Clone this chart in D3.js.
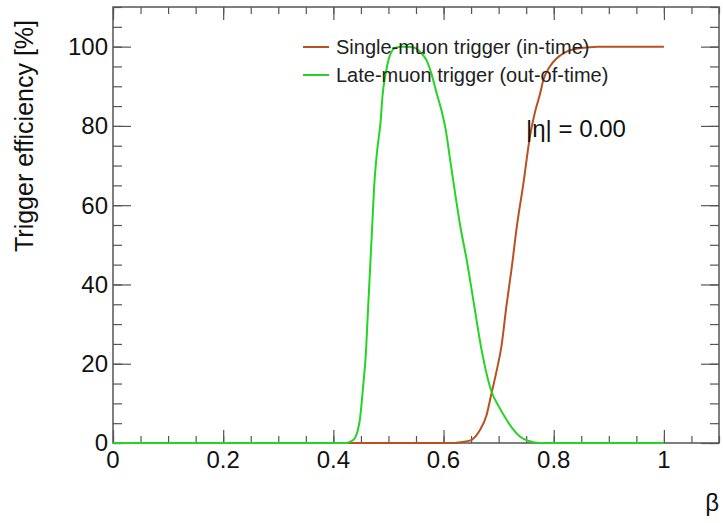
<!DOCTYPE html>
<html>
<head>
<meta charset="utf-8">
<script src="https://cdn.jsdelivr.net/npm/d3@7"></script>
<style>
  body { margin: 0; background: #fff; }
  svg { font-family: "Liberation Sans", Arial, Helvetica, sans-serif; }
</style>
</head>
<body>
<svg id="chart"></svg>
<script>
// beta values and efficiencies
const singleBeta = [0, 0.62, 0.626, 0.64, 0.651, 0.665, 0.678, 0.687, 0.696, 0.705, 0.714, 0.724, 0.733,
  0.745, 0.757, 0.766, 0.775, 0.781, 0.793, 0.805, 0.82, 0.835, 0.86, 0.88, 1.0];
const singleEff = [0, 0, 0.1, 0.4, 0.8, 3, 7, 12.5, 18, 24.3, 34.4, 44.5, 54.6,
  65.5, 77.5, 83.5, 88, 91.5, 95, 97, 98.5, 99.3, 99.8, 100, 100];

const lateBeta = [0, 0.424, 0.432, 0.439, 0.444, 0.448, 0.454, 0.459, 0.462, 0.465, 0.468, 0.471, 0.474,
  0.479, 0.486, 0.489, 0.495, 0.5, 0.506, 0.512, 0.525, 0.54, 0.551, 0.56, 0.569, 0.578, 0.587,
  0.597, 0.604, 0.612, 0.621, 0.63, 0.642, 0.654, 0.669, 0.687, 0.7, 0.711, 0.725, 0.739, 0.755, 0.775, 1.0];
const lateEff = [0, 0, 0.4, 1.2, 3, 5.8, 14.2, 22.6, 31, 39.4, 47.8, 56.2, 64.6,
  73.1, 81.5, 87.3, 93.2, 96.6, 98.8, 99.7, 100, 99.9, 99.5, 98.3, 96.6, 93.2, 88.5,
  83.5, 79, 71.4, 63, 55, 46.2, 36.1, 23.5, 13, 9.3, 6.6, 3.7, 1.6, 0.5, 0, 0];

const xMajor = [0, 0.2, 0.4, 0.6, 0.8, 1];
const yMajor = [0, 20, 40, 60, 80, 100];
const seriesNames = ["Single-muon trigger (in-time)", "Late-muon trigger (out-of-time)"];
const seriesColors = ["#b8511f", "#25d425"];

const config = {
  width: 723, height: 523,
  margin: {top: 7, right: 4, bottom: 80, left: 113}
};

const svg = d3.select('#chart')
  .attr('width', config.width)
  .attr('height', config.height);

const w = config.width - config.margin.left - config.margin.right;
const h = config.height - config.margin.top - config.margin.bottom;

const chart = svg.append('g')
  .attr('transform', `translate(${config.margin.left},${config.margin.top})`);

const x = d3.scaleLinear().domain([0, 1.1]).range([0, w]);
const y = d3.scaleLinear().domain([0, 110]).range([h, 0]);

const xMinor = d3.range(0, 1.1001, 0.05);
const yMinor = d3.range(0, 110.001, 5);

// ticks point inwards on all four sides, ROOT style
function tickAxis(axis, vals, size) {
  return axis.tickValues(vals).tickSize(size).tickFormat('');
}
const axes = [
  [tickAxis(d3.axisBottom(x), xMinor, -7), `translate(0,${h})`],
  [tickAxis(d3.axisBottom(x), xMajor, -13), `translate(0,${h})`],
  [tickAxis(d3.axisTop(x), xMinor, -7), null],
  [tickAxis(d3.axisTop(x), xMajor, -13), null],
  [tickAxis(d3.axisLeft(y), yMinor, -9), null],
  [tickAxis(d3.axisLeft(y), yMajor, -18), null],
  [tickAxis(d3.axisRight(y), yMinor, -9), `translate(${w},0)`],
  [tickAxis(d3.axisRight(y), yMajor, -18), `translate(${w},0)`]
];
axes.forEach(([ax, tr]) => {
  const g = chart.append('g').call(ax);
  if (tr) g.attr('transform', tr);
  g.select('.domain').remove();
  g.selectAll('line').attr('stroke', '#555').attr('stroke-width', 1.2);
});

// tick labels
chart.append('g').selectAll('text')
  .data(xMajor)
  .join('text')
    .attr('x', d => x(d))
    .attr('y', h + 25)
    .attr('text-anchor', 'middle')
    .attr('font-size', 24)
    .attr('fill', '#111')
    .text(d => d3.format('~g')(d));

chart.append('g').selectAll('text')
  .data(yMajor)
  .join('text')
    .attr('x', -5)
    .attr('y', d => y(d))
    .attr('dy', '0.35em')
    .attr('text-anchor', 'end')
    .attr('font-size', 24)
    .attr('fill', '#111')
    .text(d => d);

// frame
chart.append('rect')
  .attr('width', w).attr('height', h)
  .attr('fill', 'none')
  .attr('stroke', '#555')
  .attr('stroke-width', 1.5);

// curves
const line = d3.line()
  .x(d => x(d[0]))
  .y(d => y(d[1]))
  .curve(d3.curveMonotoneX);

const series = [
  d3.zip(singleBeta, singleEff),
  d3.zip(lateBeta, lateEff)
];

chart.selectAll('.curve')
  .data(series)
  .join('path')
    .attr('class', 'curve')
    .attr('d', line)
    .attr('fill', 'none')
    .attr('stroke', (d, i) => seriesColors[i])
    .attr('stroke-width', 2);

// legend
const legend = svg.append('g').attr('transform', 'translate(303,47)');
seriesNames.forEach((name, i) => {
  const row = legend.append('g').attr('transform', `translate(0,${i * 28})`);
  row.append('line')
    .attr('x1', 0).attr('x2', 26)
    .attr('stroke', seriesColors[i])
    .attr('stroke-width', 2);
  row.append('text')
    .attr('x', 33)
    .attr('dy', '0.35em')
    .attr('font-size', 20)
    .attr('fill', '#222')
    .text(name);
});

// annotation and axis titles
svg.append('text')
  .attr('x', 526).attr('y', 137)
  .attr('font-size', 24)
  .attr('fill', '#111')
  .text('|η| = 0.00');

svg.append('text')
  .attr('transform', 'translate(33,20) rotate(-90)')
  .attr('text-anchor', 'end')
  .attr('font-size', 25)
  .attr('fill', '#111')
  .text('Trigger efficiency [%]');

svg.append('text')
  .attr('x', 719).attr('y', 511)
  .attr('text-anchor', 'end')
  .attr('font-size', 24)
  .attr('fill', '#111')
  .text('β');
</script>
</body>
</html>
